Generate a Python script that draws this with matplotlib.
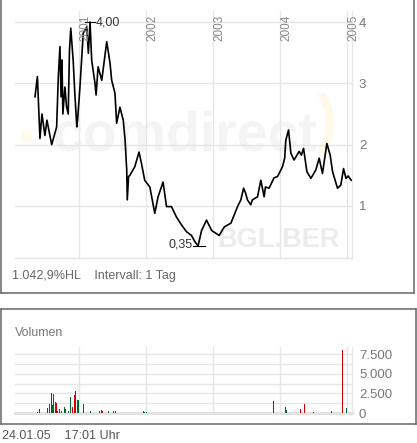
import matplotlib
matplotlib.use('Agg')
import numpy as np
import matplotlib.pyplot as plt
import matplotlib.dates as mdates
from matplotlib.lines import Line2D
from matplotlib.patches import Rectangle
from matplotlib.transforms import blended_transform_factory

plt.rcParams['font.family'] = ['Liberation Sans', 'DejaVu Sans']

# price (BGL.BER, daily)
price_dates = [
    '2000-05-06', '2000-05-19', '2000-05-28', '2000-06-02', '2000-06-13', '2000-06-29',
    '2000-07-10', '2000-08-05', '2000-09-01', '2000-09-10', '2000-09-19', '2000-09-25',
    '2000-09-30', '2000-10-05', '2000-10-16', '2000-10-25', '2000-11-03', '2000-11-10',
    '2000-11-17', '2000-11-30', '2000-12-09', '2000-12-20', '2000-12-24', '2001-01-06',
    '2001-01-24', '2001-02-12', '2001-02-21', '2001-03-02', '2001-03-11', '2001-03-29',
    '2001-04-04', '2001-04-15', '2001-05-05', '2001-06-01', '2001-06-19', '2001-06-28',
    '2001-07-16', '2001-07-25', '2001-08-12', '2001-08-30', '2001-09-09', '2001-09-18',
    '2001-09-21', '2001-09-28', '2001-10-05', '2001-11-01', '2001-11-24', '2001-12-07',
    '2001-12-25', '2002-01-22', '2002-02-18', '2002-03-08', '2002-04-04', '2002-04-23',
    '2002-05-20', '2002-06-16', '2002-07-14', '2002-08-10', '2002-09-06', '2002-09-24',
    '2002-10-12', '2002-10-31', '2002-11-27', '2002-12-25', '2003-02-04', '2003-03-04',
    '2003-04-09', '2003-05-15', '2003-06-02', '2003-06-17', '2003-06-28', '2003-07-08',
    '2003-07-26', '2003-08-04', '2003-09-01', '2003-09-19', '2003-10-07', '2003-10-14',
    '2003-11-03', '2003-11-30', '2003-12-19', '2004-01-15', '2004-01-27', '2004-02-02',
    '2004-02-17', '2004-03-01', '2004-03-18', '2004-04-15', '2004-04-27', '2004-05-09',
    '2004-05-27', '2004-06-18', '2004-07-15', '2004-08-02', '2004-08-20', '2004-09-13',
    '2004-10-01', '2004-10-14', '2004-11-10', '2004-11-28', '2004-12-13', '2004-12-26',
    '2005-01-07', '2005-01-24',
]
price = [
    2.78, 3.11, 2.46, 2.10, 2.50, 2.15,
    2.40, 2.00, 2.29, 3.10, 3.60, 2.78,
    3.38, 2.50, 2.94, 2.62, 2.50, 3.54,
    3.90, 3.38, 2.84, 2.29, 2.40, 2.94,
    3.82, 3.92, 3.49, 4.00, 3.38, 3.00,
    2.81, 3.27, 3.05, 3.68, 3.33, 3.05,
    2.84, 2.35, 2.61, 2.40, 2.08, 1.59,
    1.10, 1.48, 1.50, 1.64, 1.88, 1.70,
    1.42, 1.31, 0.88, 1.15, 1.39, 0.99,
    0.99, 0.82, 0.69, 0.58, 0.52, 0.42,
    0.35, 0.60, 0.77, 0.60, 0.52, 0.66,
    0.72, 0.99, 1.10, 1.29, 1.21, 1.10,
    1.02, 1.10, 1.15, 1.42, 1.15, 1.31,
    1.29, 1.46, 1.48, 1.64, 1.78, 2.07,
    2.24, 1.86, 1.75, 1.89, 1.83, 1.94,
    1.56, 1.45, 1.59, 1.78, 1.53, 2.02,
    1.83, 1.56, 1.29, 1.34, 1.61, 1.45,
    1.49, 1.42,
]

# volume bars ('u' = up day, 'd' = down day)
vol_dates = [
    '2000-05-19', '2000-05-28', '2000-07-11', '2000-07-26', '2000-08-03', '2000-08-08',
    '2000-08-13', '2000-08-24', '2000-08-30', '2000-09-04', '2000-09-19', '2000-09-29',
    '2000-10-12', '2000-10-18', '2000-11-07', '2000-11-13', '2000-11-18', '2000-11-25',
    '2000-12-06', '2000-12-15', '2000-12-22', '2000-12-29', '2001-01-24', '2001-03-07',
    '2001-04-25', '2001-05-01', '2001-05-08', '2001-06-09', '2001-07-10', '2001-07-17',
    '2001-12-16', '2001-12-26', '2002-01-04', '2003-11-25', '2004-01-29', '2004-02-07',
    '2004-04-20', '2004-05-12', '2004-07-01', '2004-10-07', '2004-12-06', '2004-12-27',
]
volume = [
    130, 500, 640, 1100, 2550, 1000,
    2400, 1400, 1230, 300, 500, 250,
    770, 500, 300, 1360, 2040, 770,
    2260, 2770, 1620, 1600, 1100, 200,
    250, 400, 250, 250, 300, 300,
    300, 150, 150, 1490, 730, 350,
    470, 1110, 130, 220, 8000, 600,
]
vol_dir = [
    'u', 'd', 'd', 'd', 'd', 'u',
    'u', 'u', 'd', 'u', 'd', 'u',
    'u', 'd', 'u', 'u', 'u', 'd',
    'd', 'd', 'u', 'u', 'u', 'u',
    'd', 'd', 'd', 'u', 'd', 'd',
    'd', 'u', 'u', 'd', 'u', 'u',
    'd', 'd', 'd', 'u', 'd', 'u',
]

price_ticks = [1, 2, 3, 4]
vol_grid = [0, 1250, 2500, 3750, 5000, 6250, 7500]
vol_labels = ['0', '', '2.500', '', '5.000', '', '7.500']
years = [2001, 2002, 2003, 2004, 2005]

W, H = 417, 443
GRID = '#e6e6e6'
LABEL = '#777777'


def fx(x):
    return x / W


def fy(y):
    return 1 - y / H


def ax_rect(left, top, right, bottom):
    return [fx(left), fy(bottom), (right - left) / W, (bottom - top) / H]


def to_num(dates):
    return mdates.date2num(np.array(dates, dtype='datetime64[D]'))


px_ = to_num(price_dates)
vx_ = to_num(vol_dates)
xmin = mdates.date2num(np.datetime64('2000-01-18'))
xmax = mdates.date2num(np.datetime64('2005-01-28'))
year_x = to_num([f'{y}-01-01' for y in years])

fig = plt.figure(figsize=(W / 100, H / 100), dpi=100)

# ---------- price panel ----------
ax = fig.add_axes(ax_rect(15, 11, 352, 258))
ax.set_xlim(xmin, xmax)
ax.set_ylim(0.152, 4.18)
for s in ['left', 'top']:
    ax.spines[s].set_visible(False)
for s in ['bottom', 'right']:
    ax.spines[s].set_color(GRID)
    ax.spines[s].set_linewidth(1.0)
ax.set_xticks(year_x)
ax.set_xticklabels([])
ax.set_yticks(price_ticks)
ax.set_yticklabels([str(t) for t in price_ticks])
ax.yaxis.tick_right()
ax.tick_params(length=0, labelsize=9.5, labelcolor=LABEL, pad=5)
ax.grid(True, color=GRID, lw=1.0)
ax.set_axisbelow(True)

# watermark
ax.text(0.113, 0.437, 'comdirect', transform=ax.transAxes, fontsize=40,
        fontweight='bold', color='#f4f4f4', ha='left', va='baseline', zorder=0)
ax.add_patch(Rectangle((0.02, 0.471), 0.03, 0.04, transform=ax.transAxes,
                       color='#fefaec', lw=0, zorder=0))
ax.text(0.925, 0.545, ')', transform=ax.transAxes, fontsize=46,
        fontweight='bold', color='#fef9e8', ha='center', va='center', zorder=0)
ax.text(0.599, 0.045, 'BGL.BER', transform=ax.transAxes, fontsize=19.5,
        fontweight='bold', color='#ececec', ha='left', va='baseline', zorder=0)

ax.plot(px_, price, color='black', lw=1.2, zorder=3)

trans = blended_transform_factory(ax.transData, ax.transAxes)
for y, xv in zip(years, year_x):
    ax.text(xv + 2, 0.984, str(y), transform=trans, rotation=90, ha='left',
            va='top', fontsize=8.5, color='#888888')

# high / low markers
hi = int(np.argmax(price))
lo = int(np.argmin(price))
half = 27
ax.plot([px_[hi] - half, px_[hi] + half], [price[hi], price[hi]], color='black', lw=0.8)
ax.text(px_[hi] + half + 3, price[hi], f'{price[hi]:.2f}'.replace('.', ','),
        ha='left', va='center', fontsize=9, color='#333333')
ax.plot([px_[lo] - half, px_[lo] + half + 10], [price[lo], price[lo]], color='black', lw=0.8)
ax.text(px_[lo] - half - 3, price[lo] + 0.02, f'{price[lo]:.2f}'.replace('.', ','),
        ha='right', va='center', fontsize=9, color='#333333')

pct = (max(price) - min(price)) / min(price) * 100
pct_txt = f'{pct:,.1f}'.replace(',', 'X').replace('.', ',').replace('X', '.')
fig.text(fx(12), fy(276), f'{pct_txt}%HL    Intervall: 1 Tag', fontsize=9,
         color='#666666', ha='left', va='center')

# ---------- volume panel ----------
av = fig.add_axes(ax_rect(15, 347, 352, 413))
av.set_xlim(xmin, xmax)
av.set_ylim(0, 8415)
for s in ['left', 'top']:
    av.spines[s].set_visible(False)
av.spines['right'].set_color(GRID)
av.spines['bottom'].set_color('#e3e3e3')
av.spines['bottom'].set_linewidth(2.2)
av.set_xticks(year_x)
av.set_xticklabels([])
av.set_yticks(vol_grid)
av.set_yticklabels(vol_labels)
av.yaxis.tick_right()
av.tick_params(length=0, labelsize=9.5, labelcolor=LABEL, pad=5)
av.grid(True, color=GRID, lw=1.0)
av.set_axisbelow(True)
colors = ['#cc0000' if d == 'd' else '#006633' for d in vol_dir]
av.bar(vx_, volume, width=5.5, color=colors, lw=0, zorder=3, antialiased=False)

fig.text(fx(15), fy(333), 'Volumen', fontsize=9, color='#777777', ha='left', va='center')
fig.text(fx(2), fy(436), '24.01.05    17:01 Uhr', fontsize=9, color='#555555',
         ha='left', va='center')

# panel frames
BORDER = '#666666'
for xs, ys in [([0.5, 0.5], [0, 293]), ([0.5, 413.5], [293, 293]), ([413.5, 413.5], [0, 293]),
               ([0.5, 416], [309, 309]), ([0.5, 416], [424, 424]),
               ([0.5, 0.5], [309, 424]), ([416, 416], [309, 424])]:
    fig.add_artist(Line2D([fx(v) for v in xs], [fy(v) for v in ys],
                          transform=fig.transFigure, color=BORDER, lw=1.1))

fig.savefig('out.png', dpi=100)
